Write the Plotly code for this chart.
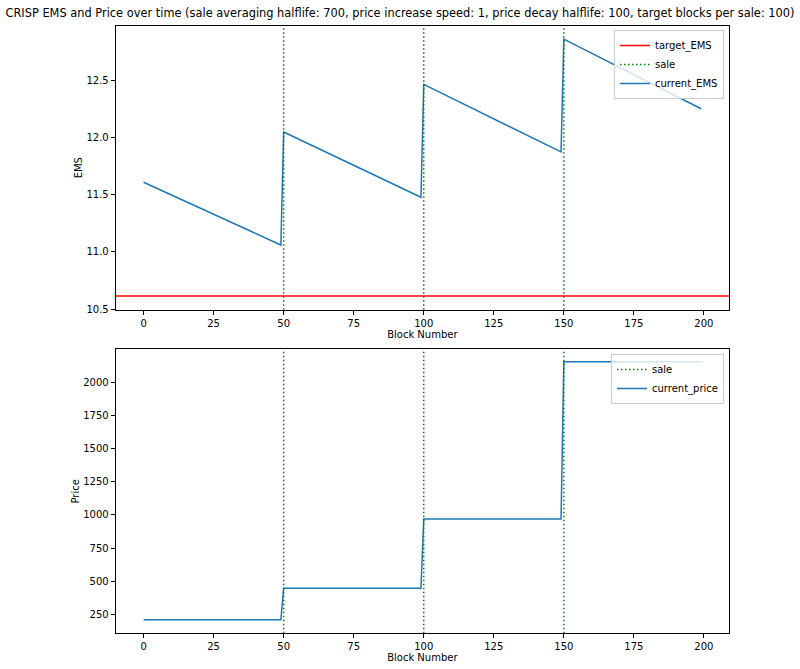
import plotly.graph_objects as go

# ---- data ----
ems_blocks = [0, 49, 50, 99, 100, 149, 150, 199]
ems_values = [11.608, 11.059, 12.047, 11.477, 12.463, 11.873, 12.859, 12.250]

price_blocks = [0, 49, 50, 99, 100, 149, 150, 199]
price_values = [209, 209, 446, 446, 969, 969, 2155, 2155]

sale_blocks = [50, 100, 150]
target_ems = 10.613

x_ticks = [0, 25, 50, 75, 100, 125, 150, 175, 200]
ems_ticks = [10.5, 11.0, 11.5, 12.0, 12.5]
price_ticks = [250, 500, 750, 1000, 1250, 1500, 1750, 2000]

title_text = ("CRISP EMS and Price over time (sale averaging halflife: 700, price increase speed: 1, "
              "price decay halflife: 100, target blocks per sale: 100)")

W, H = 800, 669
BLUE = "#1f77b4"
GREEN = "green"
RED = "red"
FONT = "DejaVu Sans"

def px_x(p):
    return p / W

def px_y(p):
    return 1 - p / H

x_dom = [px_x(115.7), px_x(729)]
top_dom = [px_y(309.7), px_y(25.7)]
bot_dom = [px_y(633.3), px_y(349.3)]

fig = go.Figure()

fig.add_trace(go.Scatter(x=ems_blocks, y=ems_values, mode="lines", name="current_EMS",
                         line=dict(color=BLUE, width=1.5), xaxis="x", yaxis="y",
                         legend="legend", legendrank=3))
fig.add_trace(go.Scatter(x=price_blocks, y=price_values, mode="lines", name="current_price",
                         line=dict(color=BLUE, width=1.5), xaxis="x2", yaxis="y2",
                         legend="legend2", legendrank=2))

# target EMS horizontal line (top)
fig.add_shape(type="line", xref="x domain", yref="y", x0=0, x1=1, y0=target_ems, y1=target_ems,
              line=dict(color=RED, width=1.5), layer="above",
              showlegend=True, name="target_EMS", legend="legend", legendrank=1)

DOT = "1.5px,2.5px"
# sale vertical lines
for i, b in enumerate(sale_blocks):
    fig.add_shape(type="line", xref="x", yref="y domain", x0=b, x1=b, y0=0, y1=1,
                  line=dict(color=GREEN, width=1.5, dash=DOT), layer="above",
                  showlegend=(i == 0), name="sale", legend="legend", legendrank=2)
    fig.add_shape(type="line", xref="x2", yref="y2 domain", x0=b, x1=b, y0=0, y1=1,
                  line=dict(color=GREEN, width=1.5, dash=DOT), layer="above",
                  showlegend=(i == 0), name="sale", legend="legend2", legendrank=1)

axis_common = dict(showline=True, linecolor="black", linewidth=1, mirror=True,
                   ticks="outside", ticklen=4, tickwidth=1, tickcolor="black",
                   showgrid=False, zeroline=False,
                   tickfont=dict(family=FONT, size=10, color="black"), automargin=False)

fig.update_layout(
    width=W, height=H,
    margin=dict(l=0, r=0, t=0, b=0),
    paper_bgcolor="white", plot_bgcolor="white",
    font=dict(family=FONT, size=10, color="black"),
    title=dict(text=title_text, x=0.5, xanchor="center", y=px_y(13), yanchor="middle",
               font=dict(family=FONT, size=11.4, color="black")),
    xaxis=dict(domain=x_dom, anchor="y", range=[-9.95, 208.95], tickvals=x_ticks,
               title=dict(text="Block Number", standoff=1, font=dict(size=10)), **axis_common),
    yaxis=dict(domain=top_dom, anchor="x", range=[10.494, 12.976], tickvals=ems_ticks,
               tickformat=".1f", title=dict(text="EMS", standoff=1, font=dict(size=10)), **axis_common),
    xaxis2=dict(domain=x_dom, anchor="y2", range=[-9.95, 208.95], tickvals=x_ticks,
                title=dict(text="Block Number", standoff=1, font=dict(size=10)), **axis_common),
    yaxis2=dict(domain=bot_dom, anchor="x2", range=[107, 2249], tickvals=price_ticks,
                title=dict(text="Price", standoff=1, font=dict(size=10)), **axis_common),
    legend=dict(x=px_x(724), xanchor="right", y=px_y(30), yanchor="top",
                bgcolor="rgba(255,255,255,0.8)", bordercolor="#cccccc", borderwidth=1,
                font=dict(family=FONT, size=10, color="black"), tracegroupgap=0,
                itemwidth=30),
    legend2=dict(x=px_x(724), xanchor="right", y=px_y(354), yanchor="top",
                 bgcolor="rgba(255,255,255,0.8)", bordercolor="#cccccc", borderwidth=1,
                 font=dict(family=FONT, size=10, color="black"), tracegroupgap=0,
                 itemwidth=30),
)

fig.write_html("out.html")
